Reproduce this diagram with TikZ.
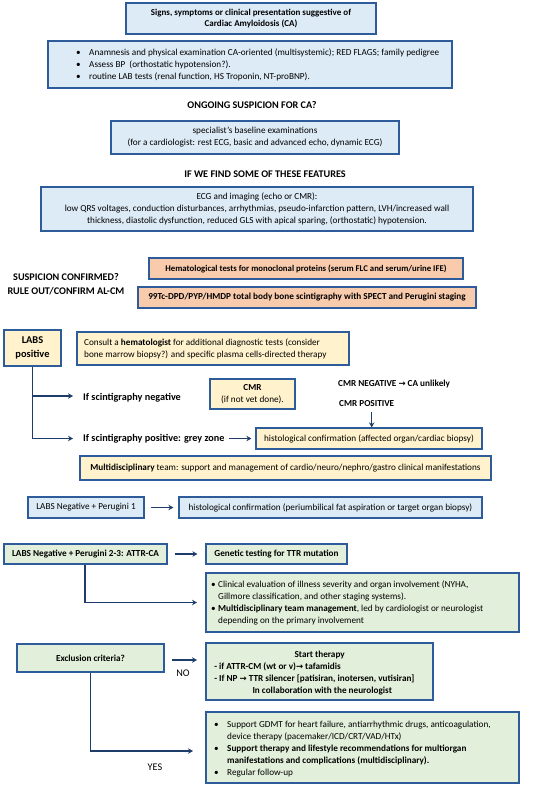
\documentclass[tikz,border=0pt]{standalone}
\usepackage{fontspec}
\setmainfont{Carlito}
\newfontfamily\djv{DejaVu Sans}
\usetikzlibrary{arrows.meta}
\definecolor{bordc}{HTML}{2E5C9A}
\definecolor{arrc}{HTML}{1F3D6B}
\definecolor{blfill}{HTML}{DDEBF7}
\definecolor{orfill}{HTML}{F8CBAD}
\definecolor{yefill}{HTML}{FFF2CC}
\definecolor{grfill}{HTML}{E2EFDA}
\newcommand\fs{\fontsize{9.2}{12}\selectfont}
\newcommand\fh{\fontsize{10.2}{13.5}\selectfont}
\newcommand\rarr{{\djv\bfseries\fontsize{8.5}{12}\selectfont →}}
\newcommand\bl[1]{\makebox[#1][l]{\textbullet}}
\newcommand\ind[1]{\makebox[#1]{}}
\tikzset{
  box/.style={draw=bordc, line width=1.2pt, inner sep=0pt, anchor=center},
  bluebox/.style={box, fill=blfill},
  orbox/.style={box, fill=orfill},
  yebox/.style={box, fill=yefill},
  grbox/.style={box, fill=grfill},
  txt/.style={inner sep=0pt, font=\fs, text=black},
  head/.style={inner sep=0pt, font=\fh\bfseries, text=black, align=center},
  arr/.style={draw=arrc, line width=1.2pt, -{Stealth[length=5pt,width=5.5pt]}}
}
\begin{document}
\begin{tikzpicture}[x=1pt,y=-1pt]
\useasboundingbox (0,0) rectangle (550,788);
\fill[white] (0,0) rectangle (550,788);

% top
\node[bluebox, minimum width=250pt, minimum height=31pt] (b1) at (251,18.5) {};
\node[txt, font=\fontsize{9}{11.5}\selectfont\bfseries, align=center] (t1) at (b1) {Signs, symptoms or clinical presentation suggestive of\\Cardiac Amyloidosis (CA)};

\node[bluebox, minimum width=404pt, minimum height=47pt] (b2) at (250,64.5) {};
\node[txt, anchor=west, align=left] (t2) at (76,65) {\bl{13pt}Anamnesis and physical examination CA-oriented (multisystemic); RED FLAGS; family pedigree\\
\bl{13pt}Assess BP\ \ (orthostatic hypotension?).\\
\bl{13pt}routine LAB tests (renal function, HS Troponin, NT-proBNP).};

\node[head] (q1) at (252,105) {ONGOING SUSPICION FOR CA?};

\node[bluebox, minimum width=288pt, minimum height=33pt] (b3) at (255,137.5) {};
\node[txt, align=center] (t3) at (b3) {specialist’s baseline examinations\\(for a cardiologist: rest ECG, basic and advanced echo, dynamic ECG)};

\node[head] (q2) at (265,174) {IF WE FIND SOME OF THESE FEATURES};

\node[bluebox, minimum width=432pt, minimum height=44pt] (b4) at (257,209) {};
\node[txt, align=center] (t4) at (b4) {ECG and imaging (echo or CMR):\\low QRS voltages, conduction disturbances, arrhythmias, pseudo-infarction pattern, LVH/increased wall\\thickness, diastolic dysfunction, reduced GLS with apical sparing, (orthostatic) hypotension.};

% suspicion confirmed
\node[head] (q3) at (66,284) {SUSPICION CONFIRMED?\\RULE OUT/CONFIRM AL-CM};
\node[orbox, minimum width=314pt, minimum height=21pt] (o1) at (306,268.5) {};
\node[txt, font=\fontsize{8.75}{12}\selectfont\bfseries] (to1) at (o1) {Hematological tests for monoclonal proteins (serum FLC and serum/urine IFE)};
\node[orbox, minimum width=338pt, minimum height=21pt] (o2) at (307,297.5) {};
\node[txt, font=\fs\bfseries] (to2) at (o2) {99Tc-DPD/PYP/HMDP total body bone scintigraphy with SPECT and Perugini staging};

% labs positive
\node[yebox, minimum width=57pt, minimum height=36pt] (labs) at (32.5,348) {};
\node[head, font=\fontsize{10.4}{14}\selectfont\bfseries] (tlabs) at (labs) {LABS\\positive};
\node[yebox, minimum width=272pt, minimum height=33pt] (cons) at (213,348.5) {};
\node[txt, anchor=west, align=left] (tcons) at (84,349) {Consult a \textbf{hematologist} for additional diagnostic tests (consider\\bone marrow biopsy?) and specific plasma cells-directed therapy};

\node[txt, font=\fh\bfseries, anchor=west] (neg) at (83,398) {If scintigraphy negative};
\node[yebox, minimum width=85pt, minimum height=30pt] (cmr) at (252.5,394) {};
\node[txt, align=center] (tcmr) at (cmr) {\textbf{CMR}\\(if not vet done).};
\node[txt, font=\fs\bfseries, anchor=west] (cmrneg) at (338,384) {CMR NEGATIVE \rarr{} CA unlikely};
\node[txt, font=\fs\bfseries, anchor=west] (cmrpos) at (339,404) {CMR POSITIVE};

\node[txt, font=\fh\bfseries, anchor=west] (pos) at (83,438.5) {If scintigraphy positive: grey zone};
\node[yebox, minimum width=226pt, minimum height=21pt] (h1) at (369,438.5) {};
\node[txt] (th1) at (h1) {histological confirmation (affected organ/cardiac biopsy)};

\node[yebox, minimum width=411pt, minimum height=24pt] (multi) at (285.5,468) {};
\node[txt] (tmulti) at (multi) {\textbf{Multidisciplinary} team: support and management of cardio/neuro/nephro/gastro clinical manifestations};

\coordinate (negend) at (73,396);
\coordinate (posend) at (73,438.5);
\draw[arr] (labs.south) |- (negend);
\draw[arr] (labs.south) |- (posend);
\draw[arr, shorten <=4pt, shorten >=4pt] (pos.east) -- (h1.west);
\draw[arr, shorten <=5pt] ([xshift=5pt]cmrpos.south) -- ([xshift=5pt]cmrpos.south |- h1.north);

% labs negative perugini 1
\node[bluebox, minimum width=116pt, minimum height=21pt] (ln1) at (86,507.5) {};
\node[txt] (tln1) at (ln1) {LABS Negative + Perugini 1};
\node[bluebox, minimum width=303pt, minimum height=21pt] (h2) at (330.5,507.5) {};
\node[txt] (th2) at (h2) {histological confirmation (periumbilical fat aspiration or target organ biopsy)};
\draw[arr, shorten <=6pt, shorten >=5pt] (ln1.east) -- (h2.west);

% perugini 2-3
\node[grbox, minimum width=163pt, minimum height=20pt] (ln23) at (85.5,554) {};
\node[txt, font=\fs\bfseries] (tln23) at (ln23) {LABS Negative + Perugini 2-3: ATTR-CA};
\node[grbox, minimum width=141pt, minimum height=20pt] (gen) at (276.5,554) {};
\node[txt, font=\fs\bfseries] (tgen) at (gen) {Genetic testing for TTR mutation};
\draw[arr, shorten <=7pt, shorten >=8pt] (ln23.east) -- (gen.west);

\node[grbox, minimum width=313pt, minimum height=59pt] (clin) at (362.5,602.5) {};
\node[txt, anchor=west, align=left] (tclin) at (211,603) {\bl{7pt}Clinical evaluation of illness severity and organ involvement (NYHA,\\
\ind{7pt}Gillmore classification, and other staging systems).\\
\bl{7pt}\textbf{Multidisciplinary team management}, led by cardiologist or neurologist\\
\ind{7pt}depending on the primary involvement};
\coordinate (clinend) at (197,602.5);
\draw[arr] ([xshift=-0.5pt]ln23.south) |- (clinend);

% exclusion
\node[grbox, minimum width=147pt, minimum height=28pt] (excl) at (90.5,658) {};
\node[txt, font=\fs\bfseries] (texcl) at (excl) {Exclusion criteria?};
\node[grbox, minimum width=227pt, minimum height=57pt] (start) at (319.5,671.5) {};
\node[txt, font=\fs\bfseries, align=left, anchor=west] (tstart) at (212,673) {\makebox[215pt]{Start therapy}\\
\ - if ATTR-CM (wt or v)\rarr{} tafamidis\\
\ - If NP \rarr{} TTR silencer [patisiran, inotersen, vutisiran]\\
\makebox[220pt]{In collaboration with the neurologist}};
\coordinate (noA) at (172,660);
\coordinate (noB) at (197,660);
\draw[arr] (noA) -- (noB);
\node[txt, font=\fh] (no) at (183,673) {NO};

\node[grbox, minimum width=313pt, minimum height=71pt] (sup) at (362.5,747.5) {};
\node[txt, anchor=west, align=left] (tsup) at (214,749) {\bl{13pt}Support GDMT for heart failure, antiarrhythmic drugs, anticoagulation,\\
\ind{13pt}device therapy (pacemaker/ICD/CRT/VAD/HTx)\\
\bl{13pt}\textbf{Support therapy and lifestyle recommendations for multiorgan}\\
\ind{13pt}\textbf{manifestations and complications (multidisciplinary).}\\
\bl{13pt}Regular follow-up};
\coordinate (yesend) at (193,751);
\draw[arr] (excl.south) |- (yesend);
\node[txt, font=\fh] (yes) at (155,767) {YES};
\end{tikzpicture}
\end{document}
